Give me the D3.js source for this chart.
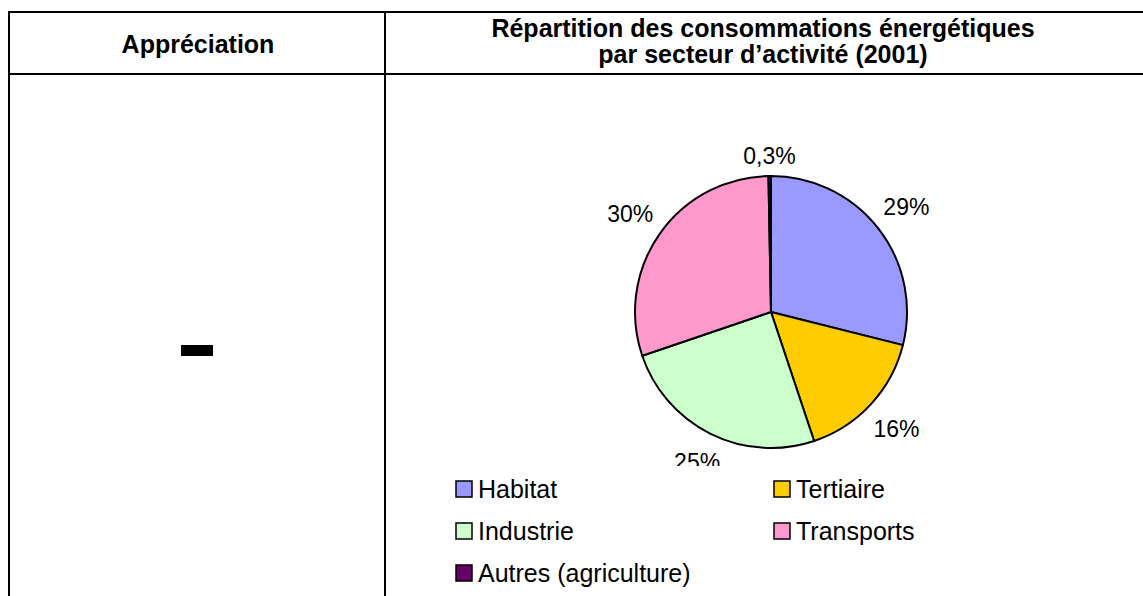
<!DOCTYPE html>
<html><head><meta charset="utf-8">
<script src="https://cdn.jsdelivr.net/npm/d3@7"></script>
<style>
html,body{margin:0;padding:0;background:#fff;}
svg{display:block;font-family:Arial,"Liberation Sans",sans-serif;}
</style></head>
<body>
<svg id="c" width="1143" height="596"></svg>
<script>
const categories = ["Habitat", "Tertiaire", "Industrie", "Transports", "Autres (agriculture)"];
const values = [29, 16, 25, 30, 0.3];
const valueLabels = ["29%", "16%", "25%", "30%", "0,3%"];
const colors = ["#9999FF", "#FFCC00", "#CCFFCC", "#FF99CC", "#660066"];
const headerLeft = "Appréciation";
const titleLines = ["Répartition des consommations énergétiques", "par secteur d’activité (2001)"];

const svg = d3.select("#c");

// table grid
const T = {left: 9, top: 12, mid: 385, head: 74, right: 1150, bottom: 610};
const grid = svg.append("g").attr("stroke", "#000").attr("stroke-width", 2);
grid.append("line").attr("x1", T.left - 1).attr("x2", T.right).attr("y1", T.top).attr("y2", T.top);
grid.append("line").attr("x1", T.left - 1).attr("x2", T.right).attr("y1", T.head).attr("y2", T.head);
grid.append("line").attr("x1", T.left).attr("x2", T.left).attr("y1", T.top - 1).attr("y2", T.bottom);
grid.append("line").attr("x1", T.mid).attr("x2", T.mid).attr("y1", T.top - 1).attr("y2", T.bottom);

// headers
svg.append("text").attr("x", 198).attr("y", 53).attr("text-anchor", "middle")
  .attr("font-weight", "bold").attr("font-size", 25).text(headerLeft);
svg.append("g").selectAll("text").data(titleLines).join("text")
  .attr("x", 763).attr("y", (d, i) => 37 + i * 26).attr("text-anchor", "middle")
  .attr("font-weight", "bold").attr("font-size", 25).text(d => d);

// dash
svg.append("rect").attr("x", 181).attr("y", 345).attr("width", 32).attr("height", 11).attr("fill", "#000");

// chart area with clipping (pie + labels)
svg.append("clipPath").attr("id", "clip").append("rect")
  .attr("x", 387).attr("y", 76).attr("width", 760).attr("height", 390);
const chart = svg.append("g").attr("clip-path", "url(#clip)");

const cx = 771, cy = 312, r = 136;
const pie = d3.pie().sort(null).value(d => d);
const arcs = pie(values);
const arc = d3.arc().innerRadius(0).outerRadius(r);
const pg = chart.append("g").attr("transform", `translate(${cx},${cy})`);
pg.selectAll("path").data(arcs).join("path")
  .attr("d", arc).attr("fill", (d, i) => colors[i])
  .attr("stroke", "#000").attr("stroke-width", 2).attr("stroke-linejoin", "round");

// labels
const fs = 23, h = 18, gap = 12;
arcs.forEach((d, i) => {
  const t = pg.append("text").attr("font-size", fs).attr("text-anchor", "middle").text(valueLabels[i]);
  const w = t.node().getComputedTextLength();
  const a = (d.startAngle + d.endAngle) / 2;
  const s = Math.sin(a), c = Math.cos(a);
  const dist = r + gap + (w / 2) * Math.abs(s) + (h / 2) * Math.abs(c);
  const x = dist * s, y = -dist * c;
  t.attr("x", x).attr("y", y + h / 2);
});

// legend
const leg = svg.append("g");
categories.forEach((name, i) => {
  const col = i % 2, row = Math.floor(i / 2);
  const x = 456 + col * 318, y = 481 + row * 42;
  const g = leg.append("g").attr("transform", `translate(${x},${y})`);
  g.append("rect").attr("width", 16).attr("height", 16).attr("fill", colors[i])
    .attr("stroke", "#000").attr("stroke-width", 1.5);
  g.append("text").attr("x", 22).attr("y", 17).attr("font-size", 25).text(name);
});
</script>
</body></html>
